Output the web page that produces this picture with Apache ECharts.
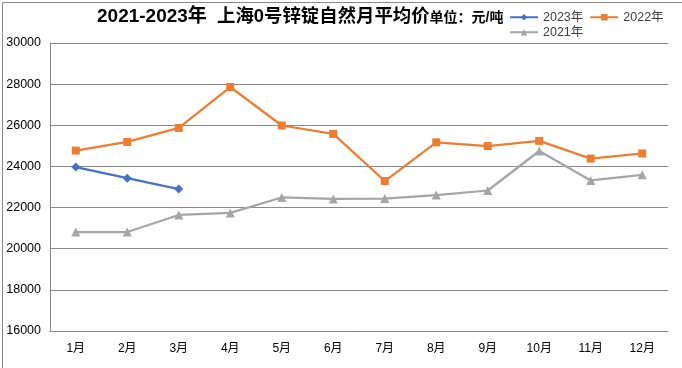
<!DOCTYPE html>
<html><head><meta charset="utf-8">
<script src="https://cdn.jsdelivr.net/npm/echarts@6/dist/echarts.min.js"></script>
<style>html,body{margin:0;padding:0;background:#fff}#c{width:682px;height:368px}</style>
</head><body><div id="c"></div>
<script>
const categories = ['1月','2月','3月','4月','5月','6月','7月','8月','9月','10月','11月','12月'];
const yTicks = [16000, 30000, 2000];
const s2023 = [23970, 23430, 22900];
const s2022 = [24770, 25190, 25870, 27860, 25990, 25580, 23290, 25170, 24990, 25240, 24380, 24630];
const s2021 = [20810, 20810, 21640, 21740, 22490, 22420, 22440, 22610, 22830, 24750, 23320, 23590];
const FONT = '"Liberation Sans", "Noto Sans CJK SC", sans-serif';
const chart = echarts.init(document.getElementById('c'));
chart.setOption({
  animation: false,
  backgroundColor: '#fff',
  textStyle: {fontFamily: FONT},
  title: {
    left: 92, top: 2,
    text: '{a|2021-2023年}{c|  上海0号锌锭自然月平均价}{b|单位：元/吨}',
    textStyle: {
      rich: {
        a: {fontSize: 19, fontWeight: 'bold', color: '#000', fontFamily: FONT},
        c: {fontSize: 18.4, fontWeight: 'bold', color: '#000', fontFamily: FONT},
        b: {fontSize: 14, fontWeight: 'bold', color: '#000', fontFamily: FONT, padding: [4,0,0,0]}
      }
    }
  },
  legend: [
    {left: 504, top: 6, data: ['2023年','2022年'], itemWidth: 28, itemHeight: 8, itemGap: 6,
     textStyle: {fontSize: 12.5, color: '#404040', fontFamily: FONT}},
    {left: 504, top: 21, data: ['2021年'], itemWidth: 28, itemHeight: 8,
     textStyle: {fontSize: 12.5, color: '#404040', fontFamily: FONT}}
  ],
  grid: {left: 50, top: 43, right: 14, bottom: 37},
  xAxis: {
    type: 'category', data: categories, boundaryGap: true,
    axisLine: {lineStyle: {color: '#888', width: 1}},
    axisTick: {show: false},
    axisLabel: {color: '#000', fontSize: 12, margin: 12, fontFamily: FONT}
  },
  yAxis: {
    type: 'value', min: yTicks[0], max: yTicks[1], interval: yTicks[2],
    axisLine: {show: true, lineStyle: {color: '#888', width: 1}},
    axisTick: {show: false},
    axisLabel: {color: '#000', fontSize: 12.5, margin: 9, fontFamily: FONT, formatter: v => String(v)},
    splitLine: {lineStyle: {color: '#888', width: 1}}
  },
  series: [
    {name: '2023年', type: 'line', data: s2023, color: '#4472C4', symbol: 'diamond', symbolSize: 9,
     lineStyle: {width: 2.25}, itemStyle: {color: '#4472C4'}},
    {name: '2022年', type: 'line', data: s2022, color: '#ED7D31', symbol: 'rect', symbolSize: 8,
     lineStyle: {width: 2.25}, itemStyle: {color: '#ED7D31'}},
    {name: '2021年', type: 'line', data: s2021, color: '#A5A5A5', symbol: 'triangle', symbolSize: 9,
     lineStyle: {width: 2.25}, itemStyle: {color: '#A5A5A5'}}
  ],
  graphic: [{type: 'rect', left: 0, top: 0, shape: {x: 0.5, y: 0.5, width: 680, height: 366},
    style: {fill: 'none', stroke: '#888', lineWidth: 1}, silent: true}]
});
</script></body></html>
